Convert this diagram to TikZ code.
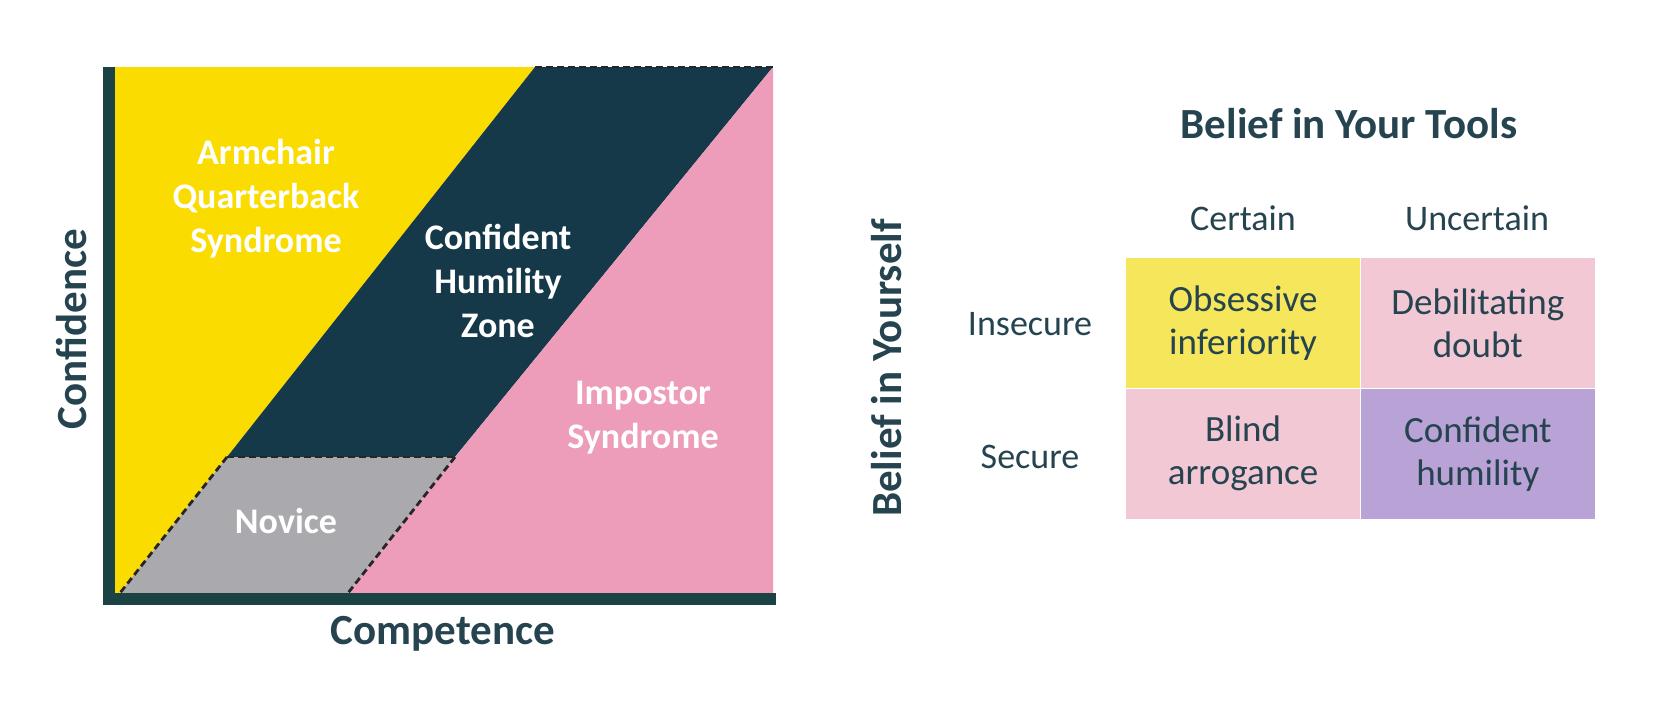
\documentclass[tikz,border=0pt]{standalone}
\usepackage{fontspec}
\setmainfont{Carlito}
\usetikzlibrary{positioning, calc}
\definecolor{zoneyellow}{HTML}{FADC00}
\definecolor{zonedark}{HTML}{16394A}
\definecolor{zonepink}{HTML}{ED9DB9}
\definecolor{zonegray}{HTML}{AAA9AE}
\definecolor{axisteal}{HTML}{1B4346}
\definecolor{inkslate}{HTML}{25444F}
\definecolor{cellyellow}{HTML}{F6E65C}
\definecolor{cellpink}{HTML}{F3C8D5}
\definecolor{cellpurple}{HTML}{B9A2D6}
\tikzstyle{zonetext} = [text=white, font=\fontsize{18}{22}\selectfont\bfseries, align=center]
\tikzstyle{axislabel} = [text=inkslate, font=\fontsize{21.5}{26}\selectfont\bfseries]
\tikzstyle{header} = [text=inkslate, font=\fontsize{18}{22}\selectfont]
\tikzstyle{cell} = [rectangle, minimum width=117pt, minimum height=65pt, inner sep=0pt,
text=inkslate, font=\fontsize{18.5}{21.5}\selectfont, align=center]
\tikzstyle{zoneedge} = [dash pattern=on 3.5pt off 2pt, line width=1.4pt, black!85]

\begin{document}
\begin{tikzpicture}[x=0.5pt, y=-0.5pt]
                \useasboundingbox (0,0) rectangle (1664,714);
                \fill [white] (0,0) rectangle (1664,714);

                % corners of the zones
                \coordinate (topleft) at (115,67);
                \coordinate (cut1) at (535,67);
                \coordinate (topright) at (773,67);
                \coordinate (knee1) at (227,457);
                \coordinate (knee2) at (455,457);
                \coordinate (foot1) at (120,593);
                \coordinate (foot2) at (348,593);
                \coordinate (botleft) at (115,593);
                \coordinate (botright) at (773,593);

                \fill [zoneyellow] (topleft) -- (cut1) -- (knee1) -- (foot1) -- (botleft) -- cycle;
                \fill [zonedark] (cut1) -- (topright) -- (knee2) -- (knee1) -- cycle;
                \fill [zonegray] (knee1) -- (knee2) -- (foot2) -- (foot1) -- cycle;
                \fill [zonepink] (topright) -- (botright) -- (foot2) -- (knee2) -- cycle;

                \draw [zoneedge] (cut1) -- (topright);
                \draw [zoneedge] (knee1) -- (knee2);
                \draw [zoneedge] (knee1) -- (foot1);
                \draw [zoneedge] (knee2) -- (foot2);

                \draw [axisteal, line width=6pt] (109,67) -- (109,599) -- (776,599);

                \node (armchair) [zonetext] at (266,199) {Armchair\\Quarterback\\Syndrome};
                \node (humility) [zonetext] at (498,281) {Confident\\Humility\\Zone};
                \node (impostor) [zonetext] at (643,418) {Impostor\\Syndrome};
                \node (novice) [zonetext] at (286,521) {Novice};

                \node (confidence) [axislabel, rotate=90] at (72,329) {Confidence};
                \node (competence) [axislabel] at (443,634) {Competence};

                % the two by two grid
                \node (tools) [axislabel] at (1349,124) {Belief in Your Tools};
                \node (yourself) [axislabel, rotate=90] at (887,368) {Belief in Yourself};

                \node (obsessive) [cell, fill=cellyellow] at (1243,323) {Obsessive\\inferiority};
                \node (debilitating) [cell, fill=cellpink, right = 0pt of obsessive] {Debilitating\\doubt};
                \node (blind) [cell, fill=cellpink, below = 0pt of obsessive] {Blind\\arrogance};
                \node (humble) [cell, fill=cellpurple, right = 0pt of blind] {Confident\\humility};

                \node (certain) [header] at (1243,218) {Certain};
                \node (uncertain) [header] at (1477,218) {Uncertain};
                \node (insecure) [header] at (1030,324) {Insecure};
                \node (secure) [header] at (1030,457) {Secure};

            \end{tikzpicture}
\end{document}
